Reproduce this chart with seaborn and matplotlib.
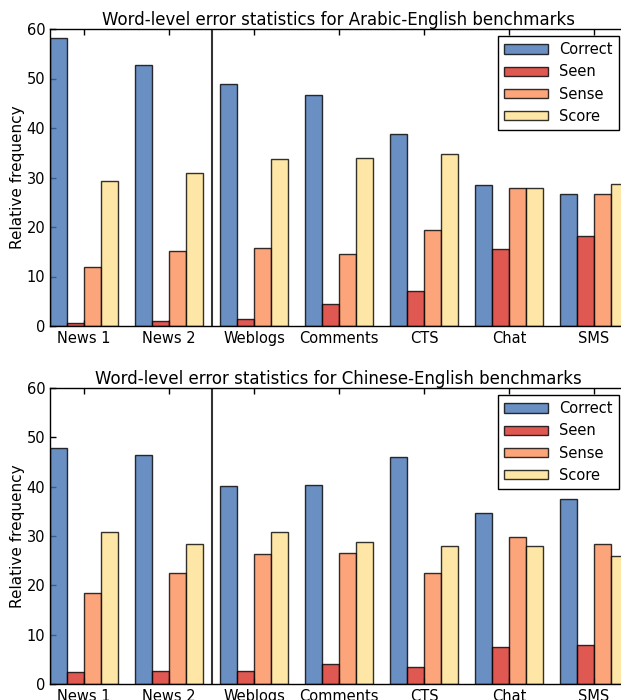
import matplotlib
matplotlib.use("Agg")
import matplotlib.pyplot as plt
import pandas as pd
import seaborn as sns

benchmarks = ["News 1", "News 2", "Weblogs", "Comments", "CTS", "Chat", "SMS"]
error_types = ["Correct", "Seen", "Sense", "Score"]

# Arabic-English relative frequencies (%)
ar_correct = [58.1, 52.8, 48.8, 46.7, 38.7, 28.5, 26.7]
ar_seen = [0.7, 1.0, 1.5, 4.5, 7.0, 15.6, 18.1]
ar_sense = [11.9, 15.1, 15.7, 14.6, 19.4, 27.9, 26.6]
ar_score = [29.2, 30.9, 33.7, 33.9, 34.7, 27.9, 28.6]

# Chinese-English relative frequencies (%)
zh_correct = [47.8, 46.5, 40.2, 40.3, 46.0, 34.7, 37.5]
zh_seen = [2.4, 2.6, 2.6, 4.1, 3.4, 7.4, 7.9]
zh_sense = [18.5, 22.4, 26.3, 26.5, 22.6, 29.8, 28.4]
zh_score = [30.9, 28.4, 30.8, 28.8, 27.9, 27.9, 25.9]

yticks = [0, 10, 20, 30, 40, 50, 60]
colors = ["#4575b4", "#d73027", "#fc8d59", "#fee090"]


def to_long(series):
    rows = []
    for etype, vals in zip(error_types, series):
        for bench, v in zip(benchmarks, vals):
            rows.append({"benchmark": bench, "type": etype, "freq": v})
    return pd.DataFrame(rows)


panels = [
    ("Word-level error statistics for Arabic-English benchmarks",
     to_long([ar_correct, ar_seen, ar_sense, ar_score])),
    ("Word-level error statistics for Chinese-English benchmarks",
     to_long([zh_correct, zh_seen, zh_sense, zh_score])),
]

sns.set_style("ticks", {"xtick.direction": "in", "ytick.direction": "in",
                        "axes.edgecolor": "black", "text.color": "black",
                        "axes.labelcolor": "black", "xtick.color": "black",
                        "ytick.color": "black"})
plt.rcParams["font.family"] = ["DejaVu Sans"]

fig = plt.figure(figsize=(6.21, 7.0), dpi=100)
W, H = 621.0, 700.0
left_px, right_px = 50.0, 626.0
boxes = [(29.0, 326.0), (388.0, 684.0)]
unit_px = 85.0

for (title, df), (top_px, bot_px) in zip(panels, boxes):
    ax = fig.add_axes([left_px / W, 1 - bot_px / H,
                       (right_px - left_px) / W, (bot_px - top_px) / H])
    sns.barplot(data=df, x="benchmark", y="freq", hue="type",
                order=benchmarks, hue_order=error_types, palette=colors,
                saturation=1, alpha=0.8, edgecolor="black", linewidth=1.0,
                errorbar=None, ax=ax)
    ax.set_xlim(-0.4, -0.4 + (right_px - left_px) / unit_px)
    ax.set_ylim(0, 60)
    ax.set_yticks(yticks)
    ax.axvline(1.5, color="#333333", lw=1.5)
    ax.set_title(title, fontsize=12, pad=3, color="black")
    ax.set_xlabel("")
    ax.set_ylabel("Relative frequency", fontsize=11, labelpad=1)
    ax.tick_params(axis="both", labelsize=10.5, length=4, width=1,
                   top=True, right=False, direction="in", color="black",
                   labelcolor="black")
    for s in ax.spines.values():
        s.set_linewidth(1.0)
        s.set_color("black")
    leg = ax.legend(loc="upper right", fontsize=10.5, frameon=True,
                    fancybox=False, framealpha=1, edgecolor="black",
                    handlelength=3.0, handleheight=0.6, handletextpad=0.8,
                    borderaxespad=0.5, labelspacing=0.5, title=None)
    leg.get_frame().set_linewidth(1.0)

fig.savefig("out.png", dpi=100)
